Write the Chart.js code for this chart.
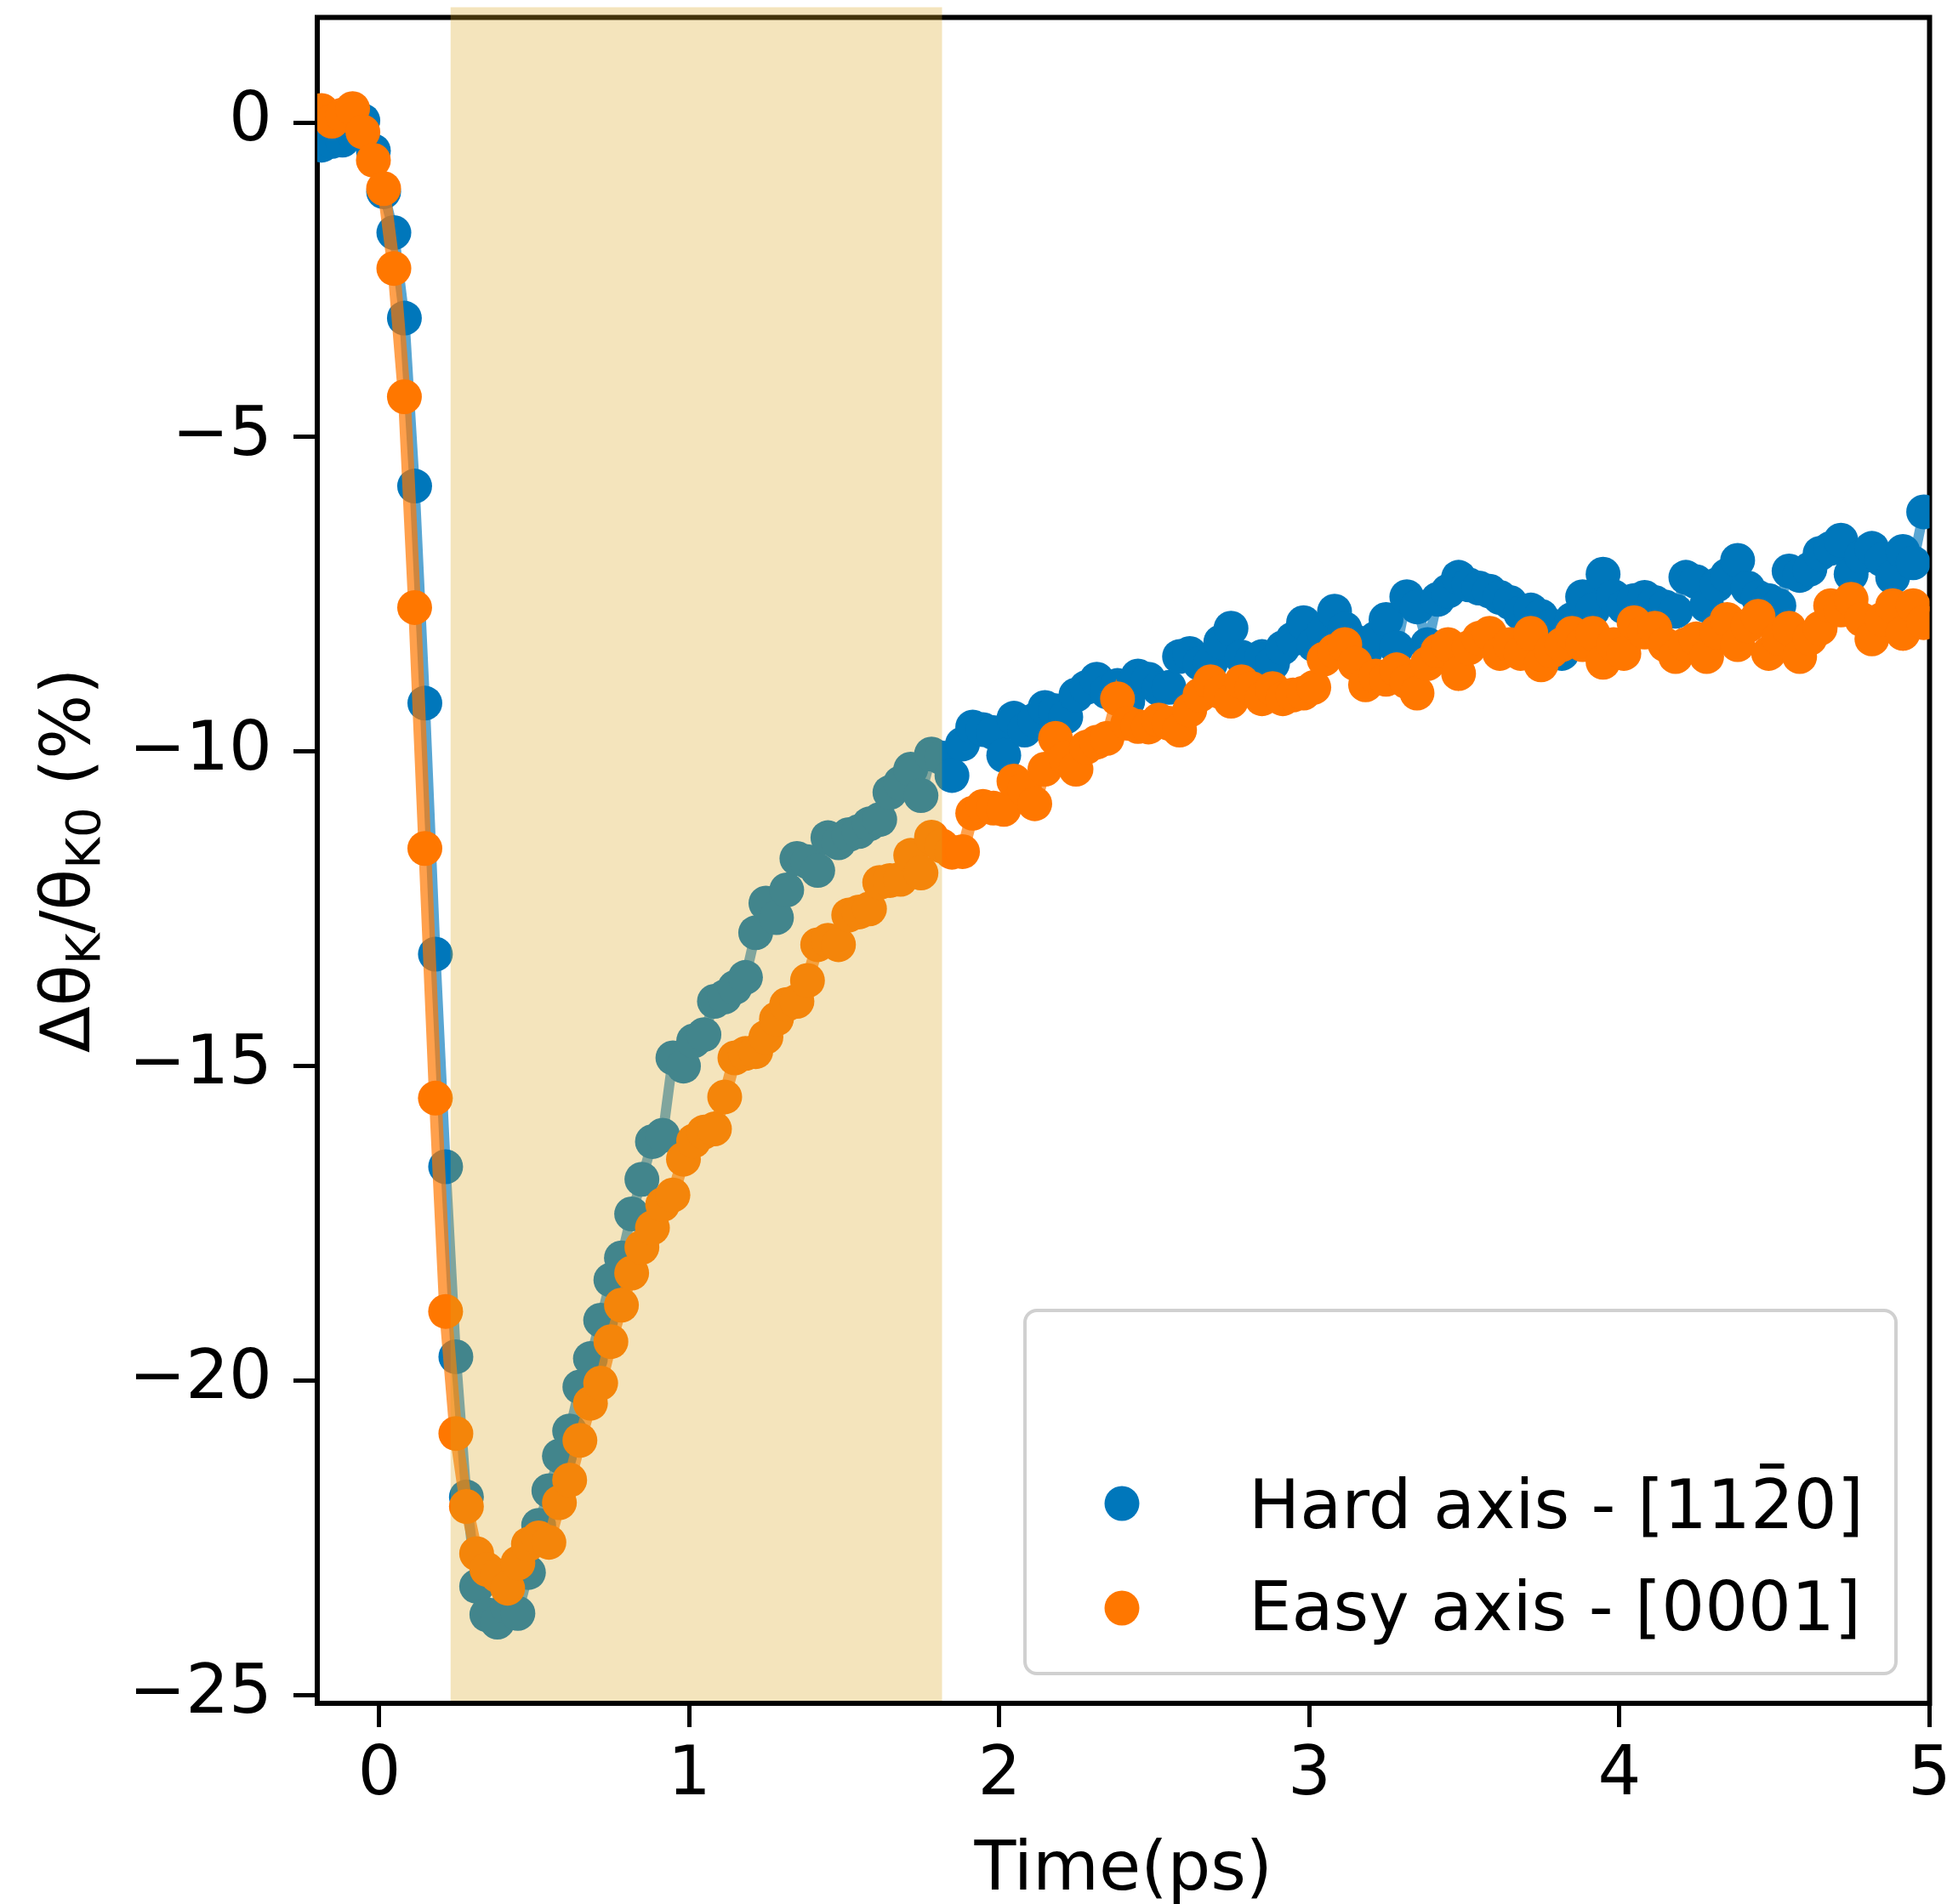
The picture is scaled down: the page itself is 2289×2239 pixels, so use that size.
<!DOCTYPE html>
<html>
<head>
<meta charset="utf-8">
<script src="https://cdn.jsdelivr.net/npm/chart.js@4.4.1/dist/chart.umd.min.js"></script>
<style>
    html, body { margin: 0; padding: 0; background: #ffffff; }
    #wrap { width: 2289px; height: 2239px; }
</style>
</head>
<body>
<div id="wrap"><canvas id="kerrChart" width="2289" height="2239"></canvas></div>
<script>
// Time delay (ps)
const timePs = [
    -0.186, -0.153, -0.119, -0.086, -0.053, -0.019, 0.014, 0.047, 0.081, 0.114,
    0.147, 0.181, 0.214, 0.247, 0.281, 0.314, 0.347, 0.381, 0.414, 0.447,
    0.481, 0.514, 0.547, 0.581, 0.614, 0.647, 0.681, 0.714, 0.747, 0.781,
    0.814, 0.847, 0.881, 0.914, 0.947, 0.981, 1.014, 1.047, 1.081, 1.114,
    1.147, 1.181, 1.214, 1.247, 1.281, 1.314, 1.347, 1.381, 1.414, 1.447,
    1.481, 1.514, 1.547, 1.581, 1.614, 1.647, 1.681, 1.714, 1.747, 1.781,
    1.814, 1.847, 1.881, 1.914, 1.947, 1.981, 2.014, 2.047, 2.081, 2.114,
    2.147, 2.181, 2.214, 2.247, 2.281, 2.314, 2.347, 2.381, 2.414, 2.447,
    2.481, 2.514, 2.547, 2.581, 2.614, 2.647, 2.681, 2.714, 2.747, 2.781,
    2.814, 2.847, 2.881, 2.914, 2.947, 2.981, 3.014, 3.047, 3.081, 3.114,
    3.147, 3.181, 3.214, 3.247, 3.281, 3.314, 3.347, 3.381, 3.414, 3.447,
    3.481, 3.514, 3.547, 3.581, 3.614, 3.647, 3.681, 3.714, 3.747, 3.781,
    3.814, 3.847, 3.881, 3.914, 3.947, 3.981, 4.014, 4.047, 4.081, 4.114,
    4.147, 4.181, 4.214, 4.247, 4.281, 4.314, 4.347, 4.381, 4.414, 4.447,
    4.481, 4.514, 4.547, 4.581, 4.614, 4.647, 4.681, 4.714, 4.747, 4.781,
    4.814, 4.847, 4.881, 4.914, 4.947, 4.981
];

// Hard axis - [11-20]
const hardAxis = [
    -0.36, -0.30, -0.28, -0.15, 0.03, -0.45, -1.10, -1.75, -3.11, -5.78,
    -9.23, -13.22, -16.6, -19.62, -21.85, -23.27, -23.72, -23.84, -23.6, -23.7,
    -23.05, -22.3, -21.75, -21.2, -20.8, -20.1, -19.65, -19.04, -18.4, -18.05,
    -17.35, -16.8, -16.2, -16.1, -14.87, -15.0, -14.6, -14.5, -13.97, -13.9,
    -13.75, -13.59, -12.88, -12.41, -12.64, -12.2, -11.7, -11.75, -11.89, -11.37,
    -11.45, -11.32, -11.27, -11.15, -11.08, -10.65, -10.5, -10.28, -10.7, -10.04,
    -10.1, -10.38, -9.88, -9.61, -9.65, -9.7, -10.06, -9.47, -9.66, -9.5,
    -9.3, -9.35, -9.45, -9.1, -8.98, -8.85, -9.05, -8.95, -9.2, -8.8,
    -8.85, -9.0, -8.98, -8.49, -8.44, -8.6, -8.6, -8.26, -8.04, -8.5,
    -8.55, -8.49, -8.6, -8.35, -8.21, -7.95, -8.3, -8.1, -7.77, -8.05,
    -8.25, -8.4, -8.2, -7.9, -8.35, -7.54, -7.7, -8.3, -7.58, -7.45,
    -7.23, -7.35, -7.4, -7.45, -7.55, -7.63, -7.8, -7.75, -7.85, -8.0,
    -8.44, -7.9, -7.54, -7.75, -7.18, -7.54, -7.7, -7.6, -7.55, -7.63,
    -7.7, -7.77, -7.23, -7.3, -7.68, -7.35, -7.2, -6.96, -7.4, -7.55,
    -7.6, -7.68, -7.13, -7.2, -7.1, -6.85, -6.77, -6.64, -7.18, -6.9,
    -6.77, -6.95, -7.23, -6.82, -7.0, -6.19
];

// Easy axis - [0001]
const easyAxis = [
    0.19, 0.02, 0.12, 0.22, -0.15, -0.6, -1.05, -2.32, -4.36, -7.71,
    -11.54, -15.51, -18.9, -20.84, -22.0, -22.75, -23.0, -23.1, -23.3, -22.9,
    -22.6, -22.5, -22.57, -21.94, -21.58, -20.95, -20.36, -20.04, -19.38, -18.8,
    -18.29, -17.88, -17.57, -17.2, -17.05, -16.48, -16.19, -16.05, -16.0, -15.49,
    -14.87, -14.8, -14.77, -14.54, -14.25, -14.02, -13.97, -13.64, -13.07, -13.0,
    -13.07, -12.6, -12.55, -12.5, -12.08, -12.05, -12.03, -11.65, -11.93, -11.36,
    -11.5, -11.6, -11.59, -10.98, -10.87, -10.9, -10.92, -10.47, -10.6, -10.83,
    -10.28, -9.79, -10.1, -10.28, -9.93, -9.85, -9.79, -9.16, -9.55, -9.6,
    -9.61, -9.5, -9.55, -9.66, -9.34, -9.1, -8.89, -9.05, -9.2, -8.89,
    -9.0, -9.16, -9.0, -9.16, -9.1, -9.07, -8.98, -8.53, -8.4, -8.3,
    -8.6, -8.94, -8.8, -8.85, -8.7, -8.89, -9.07, -8.6, -8.4, -8.3,
    -8.76, -8.35, -8.2, -8.12, -8.44, -8.3, -8.44, -8.12, -8.62, -8.4,
    -8.3, -8.12, -8.3, -8.12, -8.58, -8.3, -8.44, -7.95, -8.1, -8.04,
    -8.3, -8.49, -8.3, -8.21, -8.49, -8.1, -7.9, -8.3, -8.0, -7.85,
    -8.44, -8.2, -8.04, -8.49, -8.2, -8.04, -7.68, -7.75, -7.58, -7.9,
    -8.21, -7.9, -7.68, -8.12, -7.68, -7.95
];

// legend labels; the "2" in the hard-axis label carries an overbar
const seriesLabels = ['Hard axis - [11\u0032\u03040]', 'Easy axis - [0001]'];
const xTicks = [0, 1, 2, 3, 4, 5];
const yTicks = [0, -5, -10, -15, -20, -25];
const shadeRange = [0.23, 1.815];   // highlighted time window (ps)

const FONT = "'DejaVu Sans', sans-serif";
const BLUE = '#0077bb';
const ORANGE = '#ff7700';

// Top and right spines (drawn under the shading)
const framePlugin = {
    id: 'frame',
    beforeDatasetsDraw(chart) {
        const { ctx, chartArea: a } = chart;
        ctx.save();
        ctx.strokeStyle = '#000';
        ctx.lineWidth = 6;
        ctx.beginPath();
        ctx.moveTo(a.left - 3, a.top);
        ctx.lineTo(a.right, a.top);
        ctx.lineTo(a.right, a.bottom + 3);
        ctx.stroke();
        ctx.restore();
    }
};

// Shaded window, drawn over the data like in the original
const shadePlugin = {
    id: 'shade',
    afterDatasetsDraw(chart) {
        const { ctx, chartArea: a, scales } = chart;
        const x0 = scales.x.getPixelForValue(shadeRange[0]);
        const x1 = scales.x.getPixelForValue(shadeRange[1]);
        ctx.save();
        ctx.fillStyle = 'rgba(218, 165, 32, 0.3)';
        ctx.fillRect(x0, a.top - 12, x1 - x0, a.bottom - 3 - (a.top - 12));
        ctx.restore();
    }
};

// draw a label; a "2" followed by a combining macron gets a hand-drawn bar
function drawLabel(ctx, text, x, y) {
    const i = text.indexOf('\u0304');
    if (i < 0) { ctx.fillText(text, x, y); return; }
    const head = text.slice(0, i - 1), ch = text[i - 1], tail = text.slice(i + 1);
    ctx.fillText(head, x, y);
    const x1 = x + ctx.measureText(head).width;
    const w = ctx.measureText(ch).width;
    ctx.fillText(ch, x1, y);
    ctx.fillRect(x1 + w * 0.22, y - 76, w * 0.56, 6);
    ctx.fillText(tail, x1 + w, y);
}

// Axis titles (y title has subscripts) and legend
const textPlugin = {
    id: 'texts',
    afterDraw(chart) {
        const { ctx, chartArea: a } = chart;
        ctx.save();
        ctx.fillStyle = '#000';
        ctx.textBaseline = 'alphabetic';

        // x title
        ctx.font = '80px ' + FONT;
        ctx.textAlign = 'center';
        ctx.fillText('Time(ps)', (a.left + a.right) / 2, 2222);

        // y title: Δθ_K/θ_K0 (%)
        const big = '80px ' + FONT, small = '56px ' + FONT;
        const parts = [['\u0394\u03b8', big, 0], ['K', small, 12], ['/\u03b8', big, 0], ['K0', small, 12], [' (%)', big, 0]];
        ctx.textAlign = 'left';
        let total = 0;
        parts.forEach(p => { ctx.font = p[1]; p.push(ctx.measureText(p[0]).width); total += p[3]; });
        ctx.translate(105, (a.top + a.bottom) / 2);
        ctx.rotate(-Math.PI / 2);
        let x = -total / 2;
        parts.forEach(p => { ctx.font = p[1]; ctx.fillText(p[0], x, p[2]); x += p[3]; });
        ctx.restore();

        // legend
        ctx.save();
        const bx = 1205, by = 1541, bw = 1024, bh = 427, r = 14;
        ctx.beginPath();
        ctx.roundRect(bx, by, bw, bh, r);
        ctx.fillStyle = 'rgba(255, 255, 255, 0.8)';
        ctx.fill();
        ctx.lineWidth = 4;
        ctx.strokeStyle = '#d0d0d0';
        ctx.stroke();
        const rows = [[BLUE, seriesLabels[0], 1768, 1797], [ORANGE, seriesLabels[1], 1891, 1917]];
        ctx.font = '80px ' + FONT;
        ctx.textAlign = 'left';
        ctx.textBaseline = 'alphabetic';
        rows.forEach(([c, t, my, ty]) => {
            ctx.beginPath();
            ctx.arc(1319, my, 20.5, 0, Math.PI * 2);
            ctx.fillStyle = c;
            ctx.fill();
            ctx.fillStyle = '#000';
            drawLabel(ctx, t, 1468, ty);
        });
        ctx.restore();
    }
};

const toPoints = ys => timePs.map((t, i) => ({ x: t, y: ys[i] }));

new Chart(document.getElementById('kerrChart').getContext('2d'), {
    type: 'line',
    data: {
        datasets: [
            {
                label: seriesLabels[0],
                data: toPoints(hardAxis),
                borderColor: 'rgba(0, 119, 187, 0.65)',
                borderWidth: 12,
                pointRadius: 20.5,
                pointBackgroundColor: BLUE,
                pointBorderWidth: 0,
                tension: 0,
                clip: 0,
                order: 2
            },
            {
                label: seriesLabels[1],
                data: toPoints(easyAxis),
                borderColor: 'rgba(255, 119, 0, 0.7)',
                borderWidth: 15,
                pointRadius: 20.5,
                pointBackgroundColor: ORANGE,
                pointBorderWidth: 0,
                tension: 0,
                clip: 0,
                order: 1
            }
        ]
    },
    options: {
        responsive: false,
        animation: false,
        devicePixelRatio: 1,
        layout: { padding: { top: 18, right: 20, bottom: 0, left: 0 } },
        plugins: {
            legend: { display: false },
            tooltip: { enabled: false }
        },
        scales: {
            x: {
                type: 'linear',
                min: -0.2,
                max: 5,
                afterBuildTicks: s => { s.ticks = xTicks.map(v => ({ value: v })); },
                afterFit: s => { s.height = 236; s.paddingLeft = 0; s.paddingRight = 0; },
                ticks: {
                    color: '#000',
                    font: { family: FONT, size: 80 },
                    padding: 10,
                    maxRotation: 0,
                    autoSkip: false,
                    callback: v => String(v)
                },
                grid: { drawOnChartArea: false, drawTicks: true, tickLength: 28, tickWidth: 5, tickColor: '#000' },
                border: { display: true, color: '#000', width: 6 }
            },
            y: {
                type: 'linear',
                min: -25.13,
                max: 1.67,
                afterBuildTicks: s => { s.ticks = yTicks.map(v => ({ value: v })); },
                afterFit: s => { s.width = 373; s.paddingTop = 0; s.paddingBottom = 0; },
                ticks: {
                    color: '#000',
                    font: { family: FONT, size: 80 },
                    padding: 25,
                    autoSkip: false,
                    callback: v => (v < 0 ? '\u2212' + Math.abs(v) : String(v))
                },
                grid: { drawOnChartArea: false, drawTicks: true, tickLength: 28, tickWidth: 5, tickColor: '#000' },
                border: { display: true, color: '#000', width: 6 }
            }
        }
    },
    plugins: [framePlugin, shadePlugin, textPlugin]
});
</script>
</body>
</html>
